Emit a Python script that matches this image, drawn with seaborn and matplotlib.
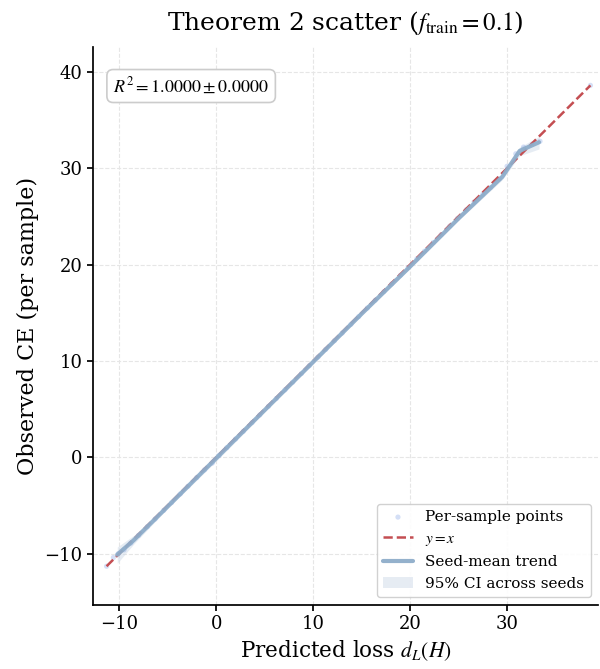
import numpy as np
import pandas as pd
import matplotlib
matplotlib.use("Agg")
import matplotlib.pyplot as plt
import seaborn as sns

# per-sample points (predicted vs observed)
pred_x = [-11.3, -10.6, -10.1, -9.5, -8.8, -8.0, -7.1, -6.3, -5.4, -4.6, -3.7, -2.9,
          -2.0, -1.2, -0.4, 0.3, 1.1, 2.0, 2.8, 3.7, 4.5, 5.4, 6.2, 7.1, 7.9, 8.8,
          9.6, 10.5, 11.3, 12.2, 13.0, 13.9, 14.7, 15.6, 16.4, 17.3, 18.1, 19.0,
          19.8, 20.7, 21.5, 22.4, 23.2, 24.1, 24.9, 25.8, 26.6, 27.5, 28.3, 29.2,
          30.0, 30.9, 31.7, 32.6, 33.4, 38.6]
obs_y = [-11.3, -10.4, -10.0, -9.6, -8.9, -8.1, -7.2, -6.4, -5.5, -4.7, -3.8, -3.0,
         -2.1, -1.3, -0.6, 0.2, 1.0, 1.9, 2.7, 3.6, 4.4, 5.3, 6.1, 7.0, 7.8, 8.7,
         9.5, 10.4, 11.2, 12.1, 12.9, 13.8, 14.6, 15.5, 16.3, 17.2, 18.0, 18.9,
         19.7, 20.6, 21.4, 22.3, 23.1, 24.0, 24.8, 25.7, 26.5, 27.3, 28.0, 28.9,
         30.2, 31.5, 32.2, 32.5, 32.8, 38.6]

# seed-mean trend (binned) with 95% CI across seeds
trend_x = [-10.2, -8.5, -5.0, 0.0, 5.0, 10.0, 15.0, 20.0, 25.0, 29.5, 31.3, 33.3]
trend_y = [-10.1, -8.6, -5.1, -0.1, 4.9, 9.9, 14.9, 19.8, 24.8, 29.1, 31.8, 32.7]
ci_lo = [-11.0, -9.0, -5.3, -0.4, 4.7, 9.7, 14.7, 19.6, 24.6, 28.8, 31.3, 32.0]
ci_hi = [-9.3, -8.1, -4.9, 0.2, 5.1, 10.1, 15.1, 20.0, 25.0, 29.4, 32.2, 33.3]

r2_mean, r2_std = 1.0, 0.0
f_train = 0.1

sns.set_theme(style="white")
plt.rcParams['font.family'] = ['DejaVu Serif']
plt.rcParams['mathtext.fontset'] = 'stix'
for k in ['text.color', 'axes.labelcolor', 'xtick.color', 'ytick.color']:
    plt.rcParams[k] = 'black'

fig, ax = plt.subplots(figsize=(6, 6.69), dpi=100)
fig.subplots_adjust(left=0.155, right=0.997, bottom=0.096, top=0.930)

pts = pd.DataFrame({"pred": pred_x, "obs": obs_y})
sns.scatterplot(data=pts, x="pred", y="obs", ax=ax, s=14, color="#3f6fd6",
                alpha=0.22, edgecolor="none", label="Per-sample points", zorder=2)

lims = [min(pred_x + obs_y), max(pred_x + obs_y)]
ax.plot(lims, lims, ls="--", color="#c44e52", lw=1.8, label="$y = x$", zorder=3)

tr = pd.DataFrame({"x": trend_x, "y": trend_y})
sns.lineplot(data=tr, x="x", y="y", ax=ax, color="#8eadca", lw=3, alpha=0.95,
             label="Seed-mean trend", zorder=4)
ax.fill_between(trend_x, ci_lo, ci_hi, color="#c9d6e6", alpha=0.45, lw=0,
                label="95% CI across seeds", zorder=1)

ax.set_xlim(-12.7, 39.4)
ax.set_ylim(-15.3, 42.6)
ax.set_xticks([-10, 0, 10, 20, 30])
ax.set_yticks([-10, 0, 10, 20, 30, 40])
ax.grid(True, ls="--", color="#e6e6e6", lw=0.8)
ax.tick_params(axis="both", labelsize=13, length=4, left=True, bottom=True)
sns.despine(ax=ax)
for s in ["left", "bottom"]:
    ax.spines[s].set_color("black")

ax.set_xlabel("Predicted loss $d_L(H)$", fontsize=15.5)
ax.set_ylabel("Observed CE (per sample)", fontsize=16)
ax.set_title(r"Theorem 2 scatter ($f_{\mathrm{train}} = %.1f$)" % f_train, fontsize=18, pad=12)

ax.text(0.04, 0.948, r"$R^2 = %.4f \pm %.4f$" % (r2_mean, r2_std), transform=ax.transAxes,
        fontsize=13, va="top", ha="left",
        bbox=dict(boxstyle="round,pad=0.35", fc="white", ec="#cccccc", lw=1.2))

leg = ax.legend(loc="lower right", fontsize=11, frameon=True, framealpha=0.9,
                edgecolor="#cccccc", fancybox=True)

fig.savefig("out.png", dpi=100)
